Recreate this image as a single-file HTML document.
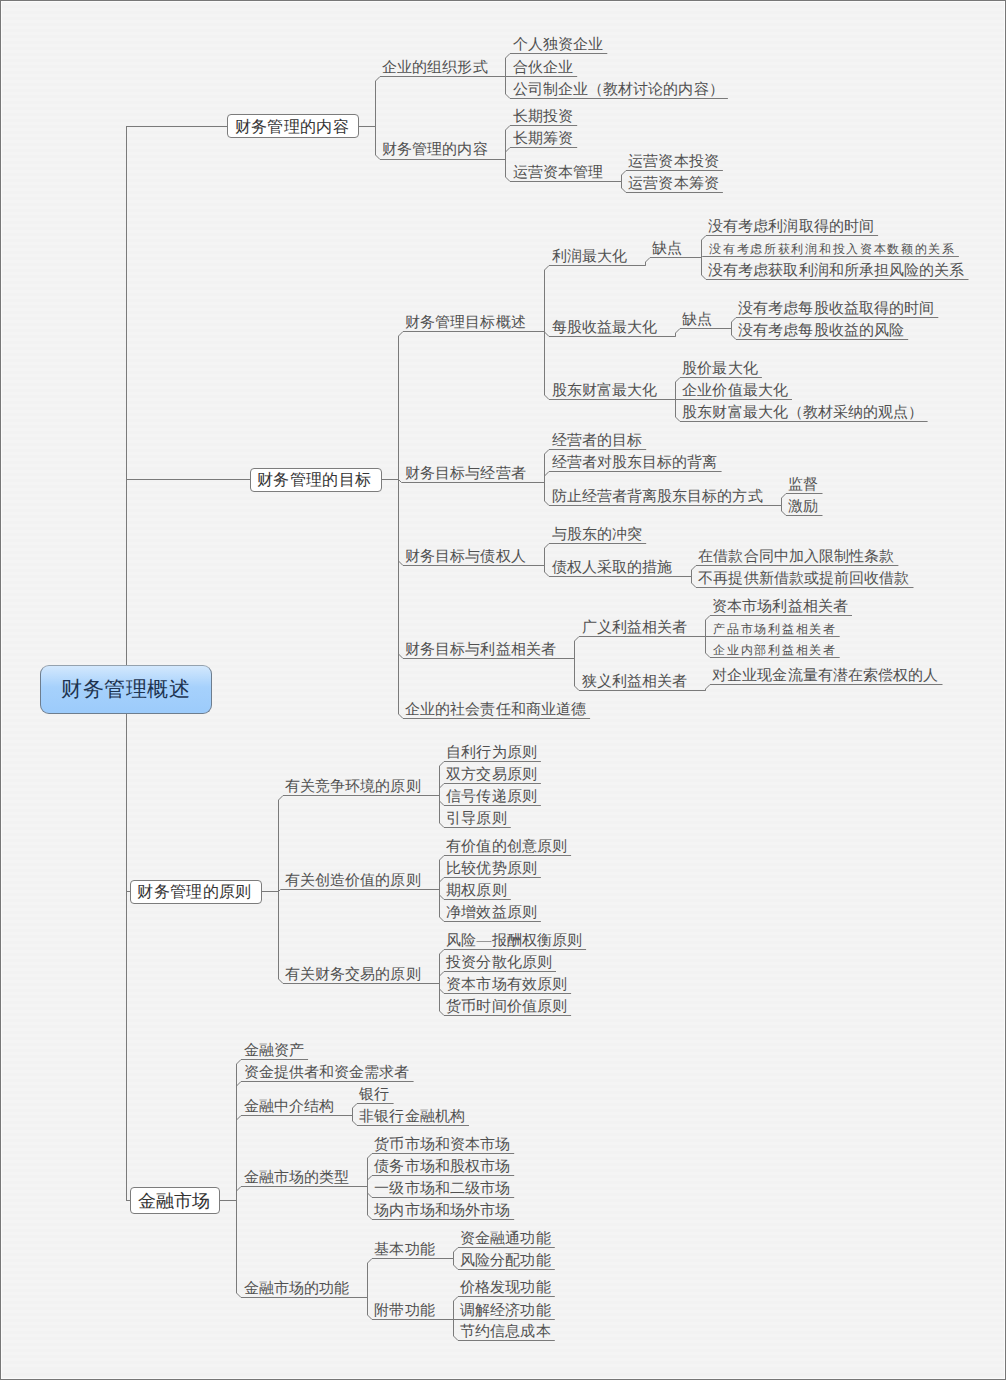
<!DOCTYPE html>
<html><head><meta charset="utf-8"><style>
html,body{margin:0;padding:0}
body{width:1006px;height:1380px;position:relative;overflow:hidden;background:#f3f3f3;
font-family:"Liberation Serif",serif;}
.frame{position:absolute;left:0;top:0;width:1004px;height:1378px;border:1px solid #777777;}
.inner{position:absolute;left:1px;top:1px;width:1002px;height:1376px;border:1px solid #fbfbfb;
background:repeating-linear-gradient(180deg,#f4f4f4 0px,#f4f4f4 3px,#f2f2f2 3px,#f2f2f2 6px);}
svg{position:absolute;left:0;top:0}
.t{position:absolute;white-space:nowrap;font-size:15px;line-height:15px;letter-spacing:0.07px;color:#505050}
.t.s{font-size:12px;line-height:12px;letter-spacing:1.7px}
.box{position:absolute;box-sizing:border-box;background:#fff;border:1px solid #7c7c7c;border-radius:4px}
.root{position:absolute;box-sizing:border-box;left:40px;top:665.2px;width:171.5px;height:48.6px;border:1px solid #6d7d8e;border-top-color:#95a2ae;border-radius:9px;
background:linear-gradient(180deg,#d3e8fd 0%,#a6d1fc 45%,#9ccbfb 100%);}
</style></head><body>
<div class="frame"></div><div class="inner"></div>
<svg width="1006" height="1380" viewBox="0 0 1006 1380">
<g fill="none" stroke="#7a7a7a" stroke-width="1">
<path d="M126.5 126 V1200.5"/>
<path d="M126 126.5 H227.0"/>
<path d="M359.0 126.5 H375.5"/>
<path d="M375.0 126.5 H375.5 V81.0 L380.0 76.5 H505.5"/>
<path d="M505.0 76.5 H505.5 V58.0 L510.0 53.5 H607.3"/>
<path d="M505.0 76.5 H577.2"/>
<path d="M505.0 76.5 H505.5 V94.0 L510.0 98.5 H727.9"/>
<path d="M375.0 126.5 H375.5 V155.0 L380.0 159.5 H505.5"/>
<path d="M505.0 159.5 H505.5 V130.0 L510.0 125.5 H577.2"/>
<path d="M505.0 159.5 H505.5 V152.0 L510.0 147.5 H577.2"/>
<path d="M505.0 159.5 H505.5 V177.0 L510.0 181.5 H621.5"/>
<path d="M621.0 181.5 H621.5 V175.0 L626.0 170.5 H722.9"/>
<path d="M621.0 181.5 H621.5 V188.0 L626.0 192.5 H722.9"/>
<path d="M126 479.5 H250.0"/>
<path d="M382.0 479.5 H398.5"/>
<path d="M398.0 479.5 H398.5 V336.0 L403.0 331.5 H544.5"/>
<path d="M544.0 331.5 H544.5 V270.0 L549.0 265.5 H645.5"/>
<path d="M645.0 265.5 H645.5 V262.0 L650.0 257.5 H701.5"/>
<path d="M701.0 257.5 H701.5 V240.0 L706.0 235.5 H878.1"/>
<path d="M701.0 257.5 H701.5 V257.5 L702.5 256.5 H958.9"/>
<path d="M701.0 257.5 H701.5 V275.0 L706.0 279.5 H968.5"/>
<path d="M544.0 331.5 H544.5 V332.0 L549.0 336.5 H675.5"/>
<path d="M675.0 336.5 H675.5 V333.0 L680.0 328.5 H731.5"/>
<path d="M731.0 328.5 H731.5 V322.0 L736.0 317.5 H938.3"/>
<path d="M731.0 328.5 H731.5 V335.0 L736.0 339.5 H908.2"/>
<path d="M544.0 331.5 H544.5 V395.0 L549.0 399.5 H675.5"/>
<path d="M675.0 399.5 H675.5 V382.0 L680.0 377.5 H761.9"/>
<path d="M675.0 399.5 H792.0"/>
<path d="M675.0 399.5 H675.5 V417.0 L680.0 421.5 H927.6"/>
<path d="M398.0 479.5 H398.5 V479.5 L401.5 482.5 H544.5"/>
<path d="M544.0 482.5 H544.5 V454.0 L549.0 449.5 H646.2"/>
<path d="M544.0 482.5 H544.5 V476.0 L549.0 471.5 H721.6"/>
<path d="M544.0 482.5 H544.5 V501.0 L549.0 505.5 H781.5"/>
<path d="M781.0 505.5 H781.5 V498.0 L786.0 493.5 H822.5"/>
<path d="M781.0 505.5 H781.5 V511.0 L786.0 515.5 H822.5"/>
<path d="M398.0 479.5 H398.5 V561.0 L403.0 565.5 H544.5"/>
<path d="M544.0 565.5 H544.5 V548.0 L549.0 543.5 H646.2"/>
<path d="M544.0 565.5 H544.5 V572.0 L549.0 576.5 H691.5"/>
<path d="M691.0 576.5 H691.5 V570.0 L696.0 565.5 H898.4"/>
<path d="M691.0 576.5 H691.5 V583.0 L696.0 587.5 H913.5"/>
<path d="M398.0 479.5 H398.5 V654.0 L403.0 658.5 H574.5"/>
<path d="M574.0 658.5 H574.5 V641.0 L579.0 636.5 H705.5"/>
<path d="M705.0 636.5 H705.5 V620.0 L710.0 615.5 H852.0"/>
<path d="M705.0 636.5 H839.7"/>
<path d="M705.0 636.5 H705.5 V653.0 L710.0 657.5 H839.7"/>
<path d="M574.0 658.5 H574.5 V686.0 L579.0 690.5 H705.5"/>
<path d="M705.0 690.5 H705.5 V689.0 L710.0 684.5 H942.5"/>
<path d="M398.0 479.5 H398.5 V714.0 L403.0 718.5 H590.1"/>
<path d="M126 891.5 H130.0"/>
<path d="M262.0 891.5 H278.5"/>
<path d="M278.0 891.5 H278.5 V800.0 L283.0 795.5 H439.5"/>
<path d="M439.0 795.5 H439.5 V766.0 L444.0 761.5 H540.9"/>
<path d="M439.0 795.5 H439.5 V788.0 L444.0 783.5 H540.9"/>
<path d="M439.0 795.5 H439.5 V801.0 L444.0 805.5 H540.9"/>
<path d="M439.0 795.5 H439.5 V823.0 L444.0 827.5 H510.8"/>
<path d="M278.0 891.5 H278.5 V891.5 L280.5 889.5 H439.5"/>
<path d="M439.0 889.5 H439.5 V860.0 L444.0 855.5 H571.1"/>
<path d="M439.0 889.5 H439.5 V882.0 L444.0 877.5 H540.9"/>
<path d="M439.0 889.5 H439.5 V895.0 L444.0 899.5 H510.8"/>
<path d="M439.0 889.5 H439.5 V917.0 L444.0 921.5 H540.9"/>
<path d="M278.0 891.5 H278.5 V979.0 L283.0 983.5 H439.5"/>
<path d="M439.0 983.5 H439.5 V954.0 L444.0 949.5 H586.1"/>
<path d="M439.0 983.5 H439.5 V976.0 L444.0 971.5 H556.0"/>
<path d="M439.0 983.5 H439.5 V989.0 L444.0 993.5 H571.1"/>
<path d="M439.0 983.5 H439.5 V1011.0 L444.0 1015.5 H571.1"/>
<path d="M126 1200.5 H130.0"/>
<path d="M220.0 1200.5 H236.5"/>
<path d="M236.0 1200.5 H236.5 V1064.0 L241.0 1059.5 H308.1"/>
<path d="M236.0 1200.5 H236.5 V1086.0 L241.0 1081.5 H413.6"/>
<path d="M236.0 1200.5 H236.5 V1120.0 L241.0 1115.5 H352.5"/>
<path d="M352.0 1115.5 H352.5 V1108.0 L357.0 1103.5 H393.6"/>
<path d="M352.0 1115.5 H352.5 V1121.0 L357.0 1125.5 H469.0"/>
<path d="M236.0 1200.5 H236.5 V1191.0 L241.0 1186.5 H367.5"/>
<path d="M367.0 1186.5 H367.5 V1158.0 L372.0 1153.5 H514.2"/>
<path d="M367.0 1186.5 H367.5 V1180.0 L372.0 1175.5 H514.2"/>
<path d="M367.0 1186.5 H367.5 V1193.0 L372.0 1197.5 H514.2"/>
<path d="M367.0 1186.5 H367.5 V1215.0 L372.0 1219.5 H514.2"/>
<path d="M236.0 1200.5 H236.5 V1293.0 L241.0 1297.5 H367.5"/>
<path d="M367.0 1297.5 H367.5 V1263.0 L372.0 1258.5 H453.5"/>
<path d="M453.0 1258.5 H453.5 V1252.0 L458.0 1247.5 H554.8"/>
<path d="M453.0 1258.5 H453.5 V1265.0 L458.0 1269.5 H554.8"/>
<path d="M367.0 1297.5 H367.5 V1315.0 L372.0 1319.5 H453.5"/>
<path d="M453.0 1319.5 H453.5 V1301.0 L458.0 1296.5 H554.8"/>
<path d="M453.0 1319.5 H554.8"/>
<path d="M453.0 1319.5 H453.5 V1336.0 L458.0 1340.5 H554.8"/>
</g></svg>
<div class="root"></div>
<div class="t" style="left:61px;top:678.5px;font-size:21px;line-height:21px;letter-spacing:0.5px;color:#1e3450">财务管理概述</div>
<div class="box" style="left:227.0px;top:114.0px;width:132.0px;height:24.0px"></div>
<div class="t bt" style="left:234.6px;top:118.5px;font-size:16px;line-height:16px;letter-spacing:0.35px;color:#333">财务管理的内容</div>
<div class="box" style="left:250.0px;top:468.0px;width:132.0px;height:24.0px"></div>
<div class="t bt" style="left:257.1px;top:472.3px;font-size:16px;line-height:16px;letter-spacing:0.35px;color:#333">财务管理的目标</div>
<div class="box" style="left:130.0px;top:880.0px;width:132.0px;height:24.0px"></div>
<div class="t bt" style="left:137.3px;top:884.4px;font-size:16px;line-height:16px;letter-spacing:0.35px;color:#333">财务管理的原则</div>
<div class="box" style="left:130.0px;top:1187.0px;width:90.0px;height:27.0px"></div>
<div class="t bt" style="left:138.0px;top:1191.9px;font-size:18px;line-height:18px;letter-spacing:0.1px;color:#333">金融市场</div>
<div class="t" style="left:382.1px;top:60.0px">企业的组织形式</div>
<div class="t" style="left:512.7px;top:37.1px">个人独资企业</div>
<div class="t" style="left:512.7px;top:59.9px">合伙企业</div>
<div class="t" style="left:512.7px;top:81.6px">公司制企业（教材讨论的内容）</div>
<div class="t" style="left:382.1px;top:142.4px">财务管理的内容</div>
<div class="t" style="left:512.7px;top:109.2px">长期投资</div>
<div class="t" style="left:512.7px;top:131.0px">长期筹资</div>
<div class="t" style="left:512.7px;top:164.8px">运营资本管理</div>
<div class="t" style="left:628.3px;top:153.7px">运营资本投资</div>
<div class="t" style="left:628.3px;top:175.8px">运营资本筹资</div>
<div class="t" style="left:405.1px;top:314.9px">财务管理目标概述</div>
<div class="t" style="left:551.6px;top:248.9px">利润最大化</div>
<div class="t" style="left:652.4px;top:240.9px">缺点</div>
<div class="t" style="left:708.1px;top:218.5px">没有考虑利润取得的时间</div>
<div class="t s" style="left:709.3px;top:242.9px">没有考虑所获利润和投入资本数额的关系</div>
<div class="t" style="left:708.1px;top:263.0px">没有考虑获取利润和所承担风险的关系</div>
<div class="t" style="left:551.6px;top:319.8px">每股收益最大化</div>
<div class="t" style="left:682.3px;top:311.8px">缺点</div>
<div class="t" style="left:738.2px;top:300.6px">没有考虑每股收益取得的时间</div>
<div class="t" style="left:738.2px;top:322.8px">没有考虑每股收益的风险</div>
<div class="t" style="left:551.6px;top:383.0px">股东财富最大化</div>
<div class="t" style="left:682.3px;top:360.8px">股价最大化</div>
<div class="t" style="left:682.3px;top:383.0px">企业价值最大化</div>
<div class="t" style="left:682.3px;top:404.5px">股东财富最大化（教材采纳的观点）</div>
<div class="t" style="left:405.1px;top:465.8px">财务目标与经营者</div>
<div class="t" style="left:551.6px;top:432.8px">经营者的目标</div>
<div class="t" style="left:551.6px;top:454.8px">经营者对股东目标的背离</div>
<div class="t" style="left:551.6px;top:488.8px">防止经营者背离股东目标的方式</div>
<div class="t" style="left:788.2px;top:476.8px">监督</div>
<div class="t" style="left:788.2px;top:498.7px">激励</div>
<div class="t" style="left:405.1px;top:549.0px">财务目标与债权人</div>
<div class="t" style="left:551.6px;top:526.8px">与股东的冲突</div>
<div class="t" style="left:551.6px;top:560.0px">债权人采取的措施</div>
<div class="t" style="left:698.3px;top:548.8px">在借款合同中加入限制性条款</div>
<div class="t" style="left:698.3px;top:570.9px">不再提供新借款或提前回收借款</div>
<div class="t" style="left:405.1px;top:641.8px">财务目标与利益相关者</div>
<div class="t" style="left:581.7px;top:619.8px">广义利益相关者</div>
<div class="t" style="left:712.2px;top:598.8px">资本市场利益相关者</div>
<div class="t s" style="left:713.4px;top:622.7px">产品市场利益相关者</div>
<div class="t s" style="left:713.4px;top:643.7px">企业内部利益相关者</div>
<div class="t" style="left:581.7px;top:673.7px">狭义利益相关者</div>
<div class="t" style="left:712.2px;top:667.8px">对企业现金流量有潜在索偿权的人</div>
<div class="t" style="left:405.1px;top:701.7px">企业的社会责任和商业道德</div>
<div class="t" style="left:285.0px;top:778.7px">有关竞争环境的原则</div>
<div class="t" style="left:446.3px;top:744.8px">自利行为原则</div>
<div class="t" style="left:446.3px;top:767.0px">双方交易原则</div>
<div class="t" style="left:446.3px;top:788.8px">信号传递原则</div>
<div class="t" style="left:446.3px;top:810.7px">引导原则</div>
<div class="t" style="left:285.0px;top:872.9px">有关创造价值的原则</div>
<div class="t" style="left:446.3px;top:838.9px">有价值的创意原则</div>
<div class="t" style="left:446.3px;top:860.9px">比较优势原则</div>
<div class="t" style="left:446.3px;top:882.8px">期权原则</div>
<div class="t" style="left:446.3px;top:904.6px">净增效益原则</div>
<div class="t" style="left:285.0px;top:966.7px">有关财务交易的原则</div>
<div class="t" style="left:446.3px;top:932.8px">风险—报酬权衡原则</div>
<div class="t" style="left:446.3px;top:954.9px">投资分散化原则</div>
<div class="t" style="left:446.3px;top:976.8px">资本市场有效原则</div>
<div class="t" style="left:446.3px;top:998.6px">货币时间价值原则</div>
<div class="t" style="left:243.6px;top:1042.8px">金融资产</div>
<div class="t" style="left:243.6px;top:1064.9px">资金提供者和资金需求者</div>
<div class="t" style="left:243.6px;top:1098.7px">金融中介结构</div>
<div class="t" style="left:359.3px;top:1086.8px">银行</div>
<div class="t" style="left:359.3px;top:1108.8px">非银行金融机构</div>
<div class="t" style="left:243.6px;top:1169.9px">金融市场的类型</div>
<div class="t" style="left:374.4px;top:1136.8px">货币市场和资本市场</div>
<div class="t" style="left:374.4px;top:1159.0px">债务市场和股权市场</div>
<div class="t" style="left:374.4px;top:1180.8px">一级市场和二级市场</div>
<div class="t" style="left:374.4px;top:1202.7px">场内市场和场外市场</div>
<div class="t" style="left:243.6px;top:1280.8px">金融市场的功能</div>
<div class="t" style="left:374.4px;top:1242.0px">基本功能</div>
<div class="t" style="left:460.2px;top:1230.9px">资金融通功能</div>
<div class="t" style="left:460.2px;top:1252.6px">风险分配功能</div>
<div class="t" style="left:374.4px;top:1303.0px">附带功能</div>
<div class="t" style="left:460.2px;top:1280.1px">价格发现功能</div>
<div class="t" style="left:460.2px;top:1303.2px">调解经济功能</div>
<div class="t" style="left:460.2px;top:1324.2px">节约信息成本</div>
</body></html>
